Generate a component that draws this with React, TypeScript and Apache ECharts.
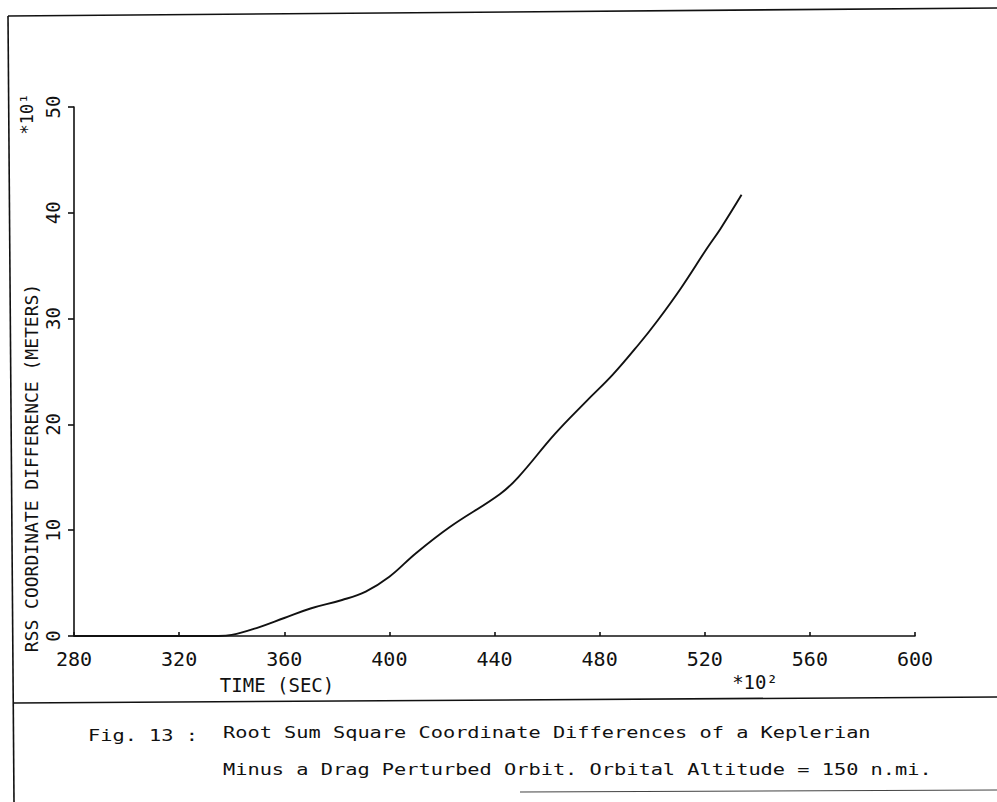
import React, { useEffect, useRef } from "react";
import * as echarts from "echarts";

// Time (x 10^2 sec) and RSS coordinate difference (x 10^1 m)
const timeValues = [280, 300, 320, 335, 340, 350, 360, 370, 382, 391, 400, 410, 423, 442, 449, 463, 475, 485, 495, 502, 511, 521, 526, 534];
const rssValues = [0, 0, 0, 0, 0.1, 0.8, 1.7, 2.6, 3.4, 4.2, 5.6, 7.8, 10.3, 13.4, 15.0, 19.1, 22.2, 24.7, 27.6, 29.8, 32.9, 36.7, 38.5, 41.7];

const xMin = 280;
const xMax = 600;
const xStep = 40;
const yMin = 0;
const yMax = 50;
const yStep = 10;

const yAxisTitle = "RSS COORDINATE DIFFERENCE (METERS)";
const xAxisTitle = "TIME (SEC)";
const yMultiplier = "*10¹";
const xMultiplier = "*10²";
const captionLabel = "Fig. 13 :";
const captionLines = [
  "Root Sum Square Coordinate Differences of a Keplerian",
  "Minus a Drag Perturbed Orbit. Orbital Altitude = 150 n.mi.",
];

const MONO = "'DejaVu Sans Mono', monospace";
const INK = "#111";

export default function App() {
  const ref = useRef<HTMLDivElement>(null);
  useEffect(() => {
    if (!ref.current) return;
    const chart = echarts.init(ref.current, undefined, { renderer: "svg" });
    const data = timeValues.map((t, i) => [t, rssValues[i]]);
    const option: any = {
      animation: false,
      backgroundColor: "#fff",
      grid: { left: 74, right: 82, top: 107, bottom: 166, containLabel: false },
      xAxis: {
        type: "value",
        min: xMin,
        max: xMax,
        interval: xStep,
        axisLine: { show: true, onZero: false, lineStyle: { color: INK, width: 1.6 } },
        axisTick: { show: true, inside: true, length: 4, lineStyle: { color: INK, width: 1.6 } },
        splitLine: { show: false },
        axisLabel: { color: INK, fontFamily: MONO, fontSize: 20, margin: 13 },
      },
      yAxis: {
        type: "value",
        min: yMin,
        max: yMax,
        interval: yStep,
        axisLine: { show: true, onZero: false, lineStyle: { color: INK, width: 1.6 } },
        axisTick: { show: true, inside: false, length: 6, lineStyle: { color: INK, width: 1.6 } },
        splitLine: { show: false },
        axisLabel: { color: INK, fontFamily: MONO, fontSize: 19, rotate: 90, margin: 12 },
      },
      series: [
        {
          type: "line",
          data,
          showSymbol: false,
          smooth: 0.4,
          lineStyle: { color: INK, width: 1.9 },
        },
      ],
      graphic: [
        // page frame
        { type: "line", shape: { x1: 8, y1: 16, x2: 997, y2: 8 }, style: { stroke: INK, lineWidth: 1.6 } },
        { type: "line", shape: { x1: 8, y1: 16, x2: 14, y2: 802 }, style: { stroke: INK, lineWidth: 1.6 } },
        { type: "line", shape: { x1: 14, y1: 703, x2: 997, y2: 697 }, style: { stroke: INK, lineWidth: 1.6 } },
        { type: "line", shape: { x1: 520, y1: 792, x2: 997, y2: 790 }, style: { stroke: "#444", lineWidth: 1.2 } },
        // axis titles
        {
          type: "text",
          x: 31,
          y: 468,
          rotation: Math.PI / 2,
          style: { text: yAxisTitle, fill: INK, font: `18px ${MONO}`, textAlign: "center", textVerticalAlign: "middle" },
        },
        {
          type: "text",
          x: 27,
          y: 114,
          rotation: Math.PI / 2,
          style: { text: yMultiplier, fill: INK, font: `17px ${MONO}`, textAlign: "center", textVerticalAlign: "middle" },
        },
        {
          type: "text",
          x: 277,
          y: 685,
          style: { text: xAxisTitle, fill: INK, font: `19px ${MONO}`, textAlign: "center", textVerticalAlign: "middle" },
        },
        {
          type: "text",
          x: 755,
          y: 682,
          style: { text: xMultiplier, fill: INK, font: `19px ${MONO}`, textAlign: "center", textVerticalAlign: "middle" },
        },
        // caption
        {
          type: "text",
          x: 88,
          y: 735,
          scaleX: 1.27,
          style: { text: captionLabel, fill: INK, font: `16px ${MONO}`, textAlign: "left", textVerticalAlign: "middle" },
        },
        {
          type: "text",
          x: 223,
          y: 732,
          scaleX: 1.27,
          style: { text: captionLines[0], fill: INK, font: `16px ${MONO}`, textAlign: "left", textVerticalAlign: "middle" },
        },
        {
          type: "text",
          x: 223,
          y: 769,
          scaleX: 1.27,
          style: { text: captionLines[1], fill: INK, font: `16px ${MONO}`, textAlign: "left", textVerticalAlign: "middle" },
        },
      ],
    };
    chart.setOption(option);
    return () => chart.dispose();
  }, []);
  return (
    <div
      ref={ref}
      style={{ position: "fixed", left: 0, top: 0, width: 997, height: 802, background: "#fff" }}
    />
  );
}
